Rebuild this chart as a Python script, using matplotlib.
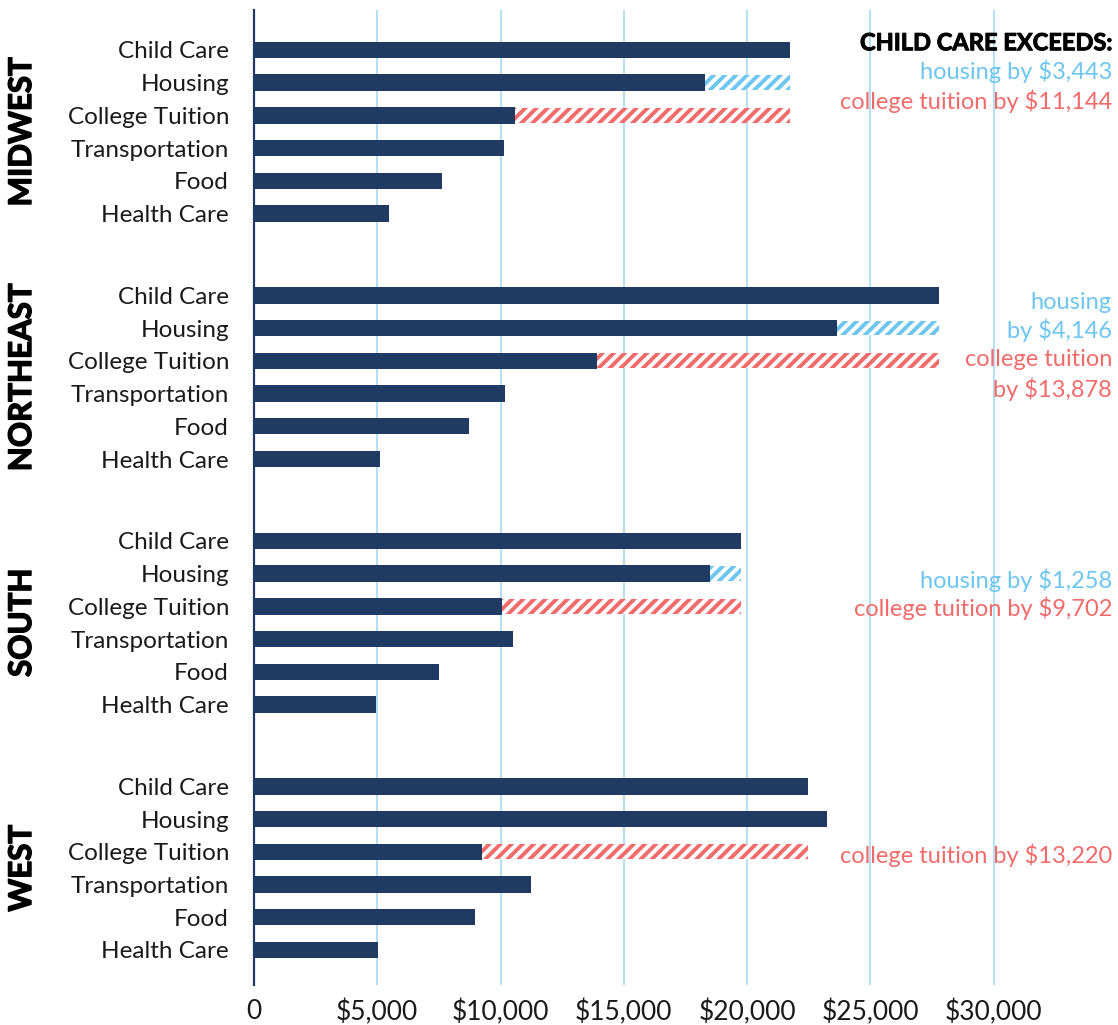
import matplotlib
matplotlib.use("Agg")
import matplotlib.pyplot as plt
import matplotlib.patheffects as pe

plt.rcParams['font.family'] = ['Lato', 'DejaVu Sans']
plt.rcParams['hatch.linewidth'] = 2.8

regions = ["MIDWEST", "NORTHEAST", "SOUTH", "WEST"]
categories = ["Child Care", "Housing", "College Tuition", "Transportation", "Food", "Health Care"]

child_care     = [21720, 27780, 19750, 22457]
housing        = [18277, 23634, 18492, 23242]
college        = [10576, 13902, 10048, 9237]
transportation = [10130, 10178, 10503, 11229]
food           = [7630, 8719, 7502, 8959]
health_care    = [5462, 5110, 4947, 5034]

xticks = [0, 5000, 10000, 15000, 20000, 25000, 30000]
xtick_labels = ["0", "$5,000", "$10,000", "$15,000", "$20,000", "$25,000", "$30,000"]

NAVY = "#1f3a63"
BLUE = "#6cc6f0"
RED = "#f26b6b"
GRID = "#9fd6f2"

fig = plt.figure(figsize=(11.18, 10.25), dpi=100)
ax = fig.add_axes([254/1118, 40/1025, 863/1118, 975/1025])

group_step = 7.5
bar_h = 0.5
all_vals = list(zip(child_care, housing, college, transportation, food, health_care))
heavy = [pe.withStroke(linewidth=1.0, foreground="black")]

ytick_pos = []
ytick_lab = []
for g, vals in enumerate(all_vals):
    base = g * group_step
    ys = [base + i for i in range(6)]
    ax.barh(ys, vals, height=bar_h, color=NAVY, zorder=3)
    ytick_pos += ys
    ytick_lab += categories
    cc = vals[0]
    for idx, col in ((1, BLUE), (2, RED)):
        if cc > vals[idx]:
            ax.barh(ys[idx], cc - vals[idx], left=vals[idx], height=bar_h * 0.9,
                    facecolor="white", edgecolor=col, hatch="///", linewidth=0, zorder=3)
    ax.text(-0.2688, base + 2.5, regions[g], transform=ax.get_yaxis_transform(),
            rotation=90, ha="center", va="center", fontsize=22.5, fontweight="bold",
            color="black", path_effects=heavy)

ax.set_xlim(0, 35000)
ax.set_ylim(28.57, -1.22)
ax.set_xticks(xticks)
ax.set_xticklabels(xtick_labels)
ax.set_yticks(ytick_pos)
ax.set_yticklabels(ytick_lab)
ax.tick_params(axis="both", length=0, colors="#1a1a1a")
ax.tick_params(axis="y", pad=18, labelsize=17.5)
ax.tick_params(axis="x", pad=10, labelsize=19)

ax.grid(axis="x", color=GRID, linewidth=1.1, zorder=0)
ax.xaxis.get_gridlines()[0].set_visible(False)
for s in ["top", "right", "bottom"]:
    ax.spines[s].set_visible(False)
ax.spines["left"].set_color(NAVY)
ax.spines["left"].set_linewidth(1.6)
ax.spines["left"].set_zorder(4)

xr = 0.9942
tr = ax.get_yaxis_transform()
fs = 17
ax.text(xr, -0.22, "CHILD CARE EXCEEDS:", transform=tr, ha="right", va="center",
        fontsize=17, fontweight="bold", color="black",
        path_effects=[pe.withStroke(linewidth=0.7, foreground="black")])
ax.text(xr, 0.64, "housing by $3,443", transform=tr, ha="right", va="center", fontsize=fs, color=BLUE)
ax.text(xr, 1.56, "college tuition by $11,144", transform=tr, ha="right", va="center", fontsize=fs, color=RED)

ax.text(xr, 7.73, "housing", transform=tr, ha="right", va="center", fontsize=fs, color=BLUE)
ax.text(xr, 8.58, "by $4,146", transform=tr, ha="right", va="center", fontsize=fs, color=BLUE)
ax.text(xr, 9.47, "college tuition", transform=tr, ha="right", va="center", fontsize=fs, color=RED)
ax.text(xr, 10.36, "by $13,878", transform=tr, ha="right", va="center", fontsize=fs, color=RED)

ax.text(xr, 16.19, "housing by $1,258", transform=tr, ha="right", va="center", fontsize=fs, color=BLUE)
ax.text(xr, 17.07, "college tuition by $9,702", transform=tr, ha="right", va="center", fontsize=fs, color=RED)

ax.text(xr, 24.6, "college tuition by $13,220", transform=tr, ha="right", va="center", fontsize=fs, color=RED)

fig.savefig("out.png", dpi=100)
